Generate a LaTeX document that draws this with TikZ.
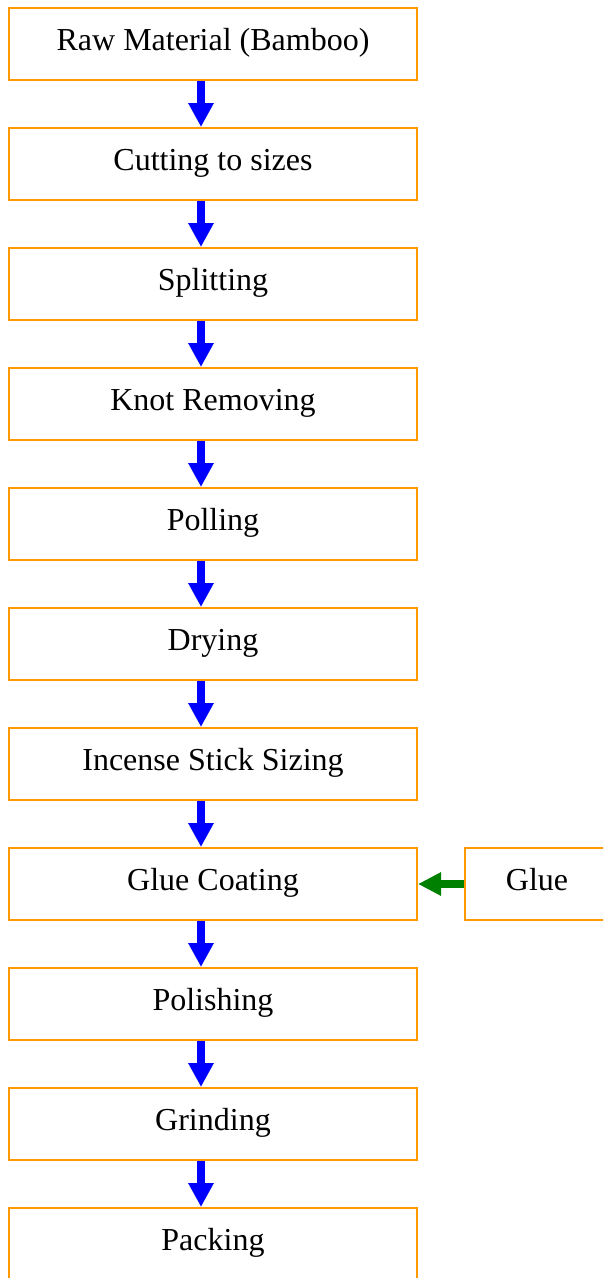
\documentclass[tikz,border=0pt]{standalone}
\usepackage{fontspec}
\setmainfont{Liberation Serif}
\usetikzlibrary{arrows.meta}
\definecolor{boxorange}{RGB}{255,153,0}
\definecolor{arrgreen}{RGB}{0,128,0}
\begin{document}
\begin{tikzpicture}[x=1pt,y=-1pt,
  stepbox/.style={draw=boxorange, line width=2pt, rectangle, minimum width=408pt, minimum height=72pt,
    font=\fontsize{32}{38}\selectfont, text height=22pt, text depth=10pt, inner sep=0pt},
  gluebox/.style={stepbox, minimum width=144pt},
  flow/.style={draw=blue, line width=8pt, -{Triangle[width=24pt,length=24pt]}, fill=blue},
  side/.style={draw=arrgreen, line width=8pt, -{Triangle[width=22pt,length=23pt]}, fill=arrgreen}]
\useasboundingbox (0,0) rectangle (603,1278);
\clip (0,0) rectangle (603,1278);
\fill[white] (0,0) rectangle (603,1278);
\node[stepbox] (b0) at (213,44) {Raw Material (Bamboo)};
\node[stepbox] (b1) at (213,164) {Cutting to sizes};
\node[stepbox] (b2) at (213,284) {Splitting};
\node[stepbox] (b3) at (213,404) {Knot Removing};
\node[stepbox] (b4) at (213,524) {Polling};
\node[stepbox] (b5) at (213,644) {Drying};
\node[stepbox] (b6) at (213,764) {Incense Stick Sizing};
\node[stepbox] (b7) at (213,884) {Glue Coating};
\node[stepbox] (b8) at (213,1004) {Polishing};
\node[stepbox] (b9) at (213,1124) {Grinding};
\node[stepbox] (b10) at (213,1244) {Packing};
\node[gluebox] (glue) at (537,884) {Glue};
\foreach \a/\b in {b0/b1,b1/b2,b2/b3,b3/b4,b4/b5,b5/b6,b6/b7,b7/b8,b8/b9,b9/b10}
  \draw[flow] ([xshift=-12pt]\a.south) -- ([xshift=-12pt]\b.north);
\draw[side] (glue.west) -- (b7.east);
\end{tikzpicture}
\end{document}
